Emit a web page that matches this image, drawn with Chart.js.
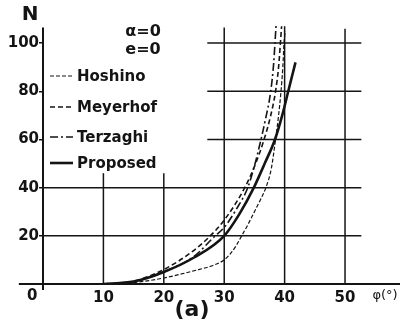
<!DOCTYPE html>
<html>
<head>
<meta charset="utf-8">
<script src="https://cdn.jsdelivr.net/npm/chart.js@4"></script>
<style>
  body { margin: 0; background: #fff; }
  canvas { display: block; }
</style>
</head>
<body>
<canvas id="chart" width="403" height="322"></canvas>
<script>
// phi (deg) vs N
const hoshinoPhi = [10, 15, 20, 25, 28, 30, 31, 32, 33, 34, 35, 36, 36.9, 37.8, 38.5, 39, 39.4, 39.7, 39.9, 40.1]
const hoshinoN = [0, 0.6, 2.5, 5.5, 7.6, 10, 12.5, 16, 20.5, 25, 30, 35, 40, 48, 60, 70, 80, 90, 100, 105]
const meyerhofPhi = [10, 15, 20, 25, 27.5, 30, 33.4, 35.2, 36.6, 37.7, 38.5, 39, 39.3, 39.5]
const meyerhofN = [0, 1.2, 6, 14, 19.5, 26.5, 40, 50, 60, 70, 80, 90, 100, 107]
const terzaghiPhi = [10, 15, 20, 25, 28.5, 30, 32, 33.9, 35, 35.9, 36.8, 37.7, 38.2, 38.4, 38.6]
const terzaghiN = [0, 1, 5, 11.5, 20, 23.5, 31, 40, 49, 58, 68, 80, 92, 100, 108]
const proposedPhi = [10, 15, 20, 25, 30, 32.5, 34.9, 36.7, 38.4, 39.6, 40.6, 41.8]
const proposedN = [0, 1, 5, 11, 20, 29, 40, 50, 60, 70, 80, 92]

const seriesNames = ["Hoshino", "Meyerhof", "Terzaghi", "Proposed"]
const xTicks = [0, 10, 20, 30, 40, 50]
const yTicks = [20, 40, 60, 80, 100]

const ink = "#141414"
const font = "DejaVu Sans"

const pts = (xs, ys) => xs.map((v, i) => ({x: v, y: ys[i]}))

// hand drawn partial grid + axes, the way the paper figure has it
const paper = {
  id: "paper",
  beforeDatasetsDraw(chart) {
    const {ctx, scales: {x, y}} = chart
    const seg = (x1, y1, x2, y2, w) => {
      ctx.lineWidth = w
      ctx.beginPath()
      ctx.moveTo(x.getPixelForValue(x1), y.getPixelForValue(y1))
      ctx.lineTo(x.getPixelForValue(x2), y.getPixelForValue(y2))
      ctx.stroke()
    }
    ctx.save()
    ctx.strokeStyle = ink
    seg(0, 20, 52.7, 20, 1.5)
    seg(0, 40, 52.7, 40, 1.5)
    seg(27.2, 60, 52.7, 60, 1.5)
    seg(27.2, 80, 52.7, 80, 1.5)
    seg(27.2, 100, 52.7, 100, 1.5)
    seg(10, 0, 10, 46, 1.5)
    seg(20, 0, 20, 46, 1.5)
    seg(30, 0, 30, 106.5, 1.5)
    seg(40, 0, 40, 107, 1.5)
    seg(50, 0, 50, 106, 1.5)
    seg(0, -2.5, 0, 106.5, 2)
    seg(-4, 0, 59.1, 0, 2)
    ctx.restore()
  },
  afterDraw(chart) {
    const {ctx, scales: {x, y}} = chart
    ctx.save()
    ctx.fillStyle = ink
    ctx.textBaseline = "middle"
    ctx.textAlign = "center"
    ctx.font = "bold 20px " + font
    ctx.fillText("N", 30, 15)
    ctx.font = "bold 16px " + font
    ctx.fillText("α=0", 143, 32)
    ctx.fillText("e=0", 143, 50)
    ctx.font = "bold 15px " + font
    ctx.fillText("0", x.getPixelForValue(-1.8), 296)
    ctx.font = "bold 22px " + font
    ctx.fillText("(a)", 192, 310)
    ctx.font = "13px " + font
    ctx.fillText("φ(°)", 385, 296)

    // legend
    const rows = [76, 107, 137, 163]
    chart.data.datasets.forEach((ds, i) => {
      ctx.strokeStyle = ink
      ctx.lineWidth = ds.borderWidth
      ctx.setLineDash(ds.borderDash || [])
      ctx.beginPath()
      ctx.moveTo(50, rows[i])
      ctx.lineTo(73, rows[i])
      ctx.stroke()
      ctx.setLineDash([])
      ctx.textAlign = "left"
      ctx.font = "bold 15px " + font
      ctx.fillText(ds.label, 77, rows[i] + 1)
    })
    ctx.restore()
  }
}

new Chart(document.getElementById("chart"), {
  type: "line",
  data: {
    datasets: [
      {label: seriesNames[0], data: pts(hoshinoPhi, hoshinoN), borderWidth: 1.2, borderDash: [4, 2]},
      {label: seriesNames[1], data: pts(meyerhofPhi, meyerhofN), borderWidth: 1.6, borderDash: [5, 3]},
      {label: seriesNames[2], data: pts(terzaghiPhi, terzaghiN), borderWidth: 1.6, borderDash: [8, 3, 2, 3]},
      {label: seriesNames[3], data: pts(proposedPhi, proposedN), borderWidth: 2.6}
    ].map(d => Object.assign(d, {borderColor: ink, pointRadius: 0, fill: false, cubicInterpolationMode: "monotone"}))
  },
  options: {
    responsive: false,
    animation: false,
    layout: {padding: {top: 19, right: 3, left: 0, bottom: 0}},
    plugins: {legend: {display: false}, tooltip: {enabled: false}},
    scales: {
      x: {
        type: "linear",
        min: 0,
        max: 59.1,
        afterBuildTicks: s => { s.ticks = xTicks.map(v => ({value: v})) },
        afterFit: s => { s.height = 38 },
        grid: {display: false, drawTicks: false},
        border: {display: false},
        ticks: {
          padding: 5,
          color: ink,
          font: {family: font, size: 15, weight: "bold"},
          callback: v => (v === 0 ? "" : String(v))
        }
      },
      y: {
        min: 0,
        max: 110,
        afterBuildTicks: s => { s.ticks = yTicks.map(v => ({value: v})) },
        afterFit: s => { s.width = 43 },
        grid: {drawOnChartArea: false, drawTicks: true, tickLength: 4, color: ink, lineWidth: 1.5},
        border: {display: false},
        ticks: {
          padding: 0,
          color: ink,
          font: {family: font, size: 15, weight: "bold"}
        }
      }
    }
  },
  plugins: [paper]
})
</script>
</body>
</html>
